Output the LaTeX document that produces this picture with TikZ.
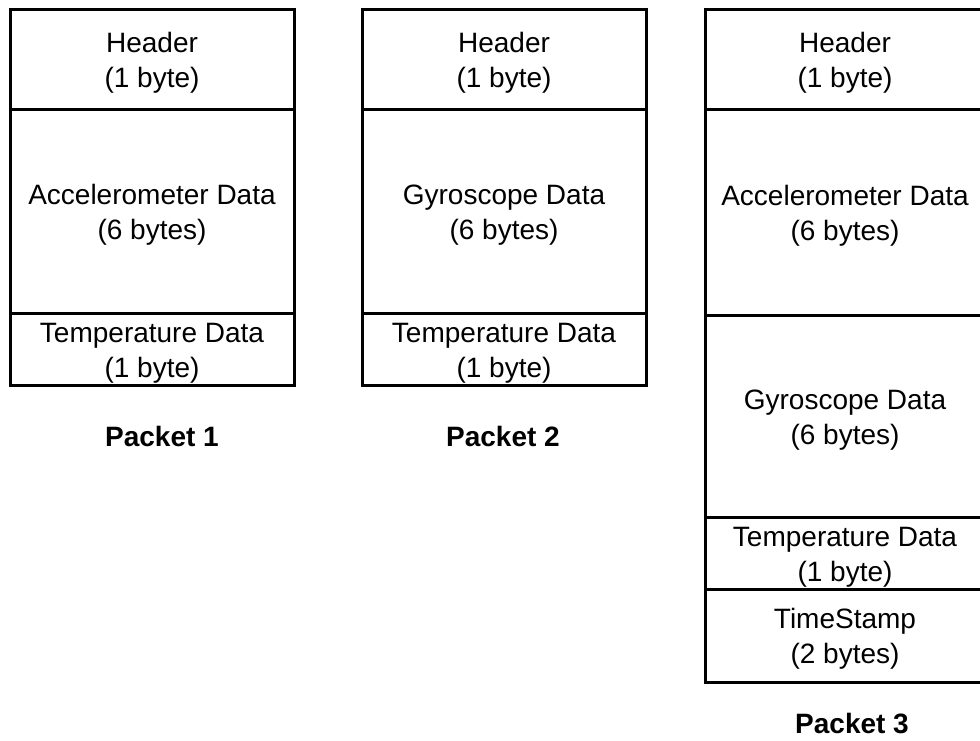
\documentclass[tikz,border=0pt]{standalone}
\usepackage{fontspec}
\setmainfont{Liberation Sans}
\newcommand{\twoline}[2]{\raisebox{-3.5pt}[\height][\depth]{\begin{tabular}{@{}c@{}}#1\\#2\end{tabular}}}
\begin{document}
\begin{tikzpicture}[x=1pt,y=-1pt,
  cell/.style={draw=black, line width=3pt, rectangle, inner sep=0pt,
    font=\fontsize{28}{35}\selectfont},
  plabel/.style={font=\fontsize{28}{34}\selectfont\bfseries}]
\useasboundingbox (0,0) rectangle (980,741);
% Packet 1
\node[cell, minimum width=284pt, minimum height=100pt] (p1h) at (152,60) {\twoline{Header}{(1 byte)}};
\node[cell, minimum width=284pt, minimum height=203pt] (p1a) at (152,211.5) {\twoline{Accelerometer Data}{(6 bytes)}};
\node[cell, minimum width=284pt, minimum height=72pt] (p1t) at (152,349) {\twoline{Temperature Data}{(1 byte)}};
\node[plabel] (p1l) at (162,436) {Packet 1};
% Packet 2
\node[cell, minimum width=284pt, minimum height=100pt] (p2h) at (504,60) {\twoline{Header}{(1 byte)}};
\node[cell, minimum width=284pt, minimum height=203pt] (p2g) at (504,211.5) {\twoline{Gyroscope Data}{(6 bytes)}};
\node[cell, minimum width=284pt, minimum height=72pt] (p2t) at (504,349) {\twoline{Temperature Data}{(1 byte)}};
\node[plabel] (p2l) at (503,436) {Packet 2};
% Packet 3
\node[cell, minimum width=280pt, minimum height=100pt] (p3h) at (845,60) {\twoline{Header}{(1 byte)}};
\node[cell, minimum width=280pt, minimum height=205pt] (p3a) at (845,212.5) {\twoline{Accelerometer Data}{(6 bytes)}};
\node[cell, minimum width=280pt, minimum height=202pt] (p3g) at (845,416) {\twoline{Gyroscope Data}{(6 bytes)}};
\node[cell, minimum width=280pt, minimum height=72pt] (p3t) at (845,553) {\twoline{Temperature Data}{(1 byte)}};
\node[cell, minimum width=280pt, minimum height=93pt] (p3s) at (845,635.5) {\twoline{TimeStamp}{(2 bytes)}};
\node[plabel] (p3l) at (852,724) {Packet 3};
\end{tikzpicture}
\end{document}
